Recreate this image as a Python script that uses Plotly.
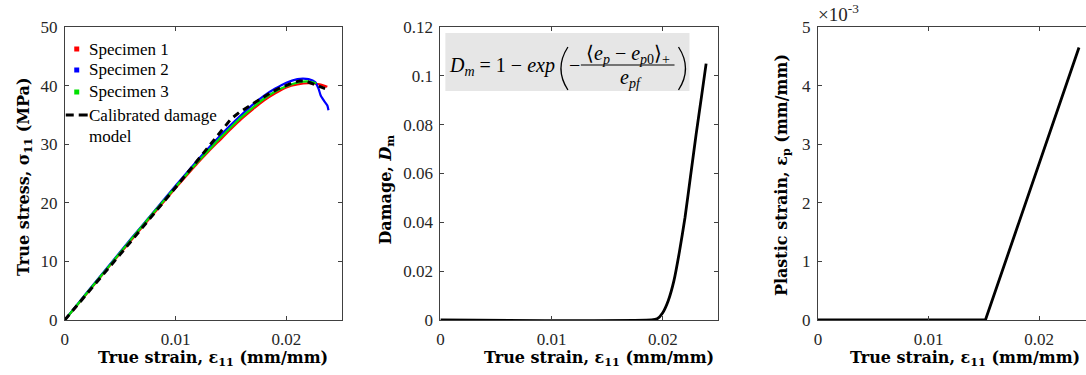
import plotly.graph_objects as go

# ---------------- data ----------------
strain_s1 = [0, 0.002, 0.004, 0.006, 0.008, 0.010, 0.012, 0.013, 0.014, 0.015, 0.016, 0.017, 0.018, 0.019, 0.020, 0.021, 0.022, 0.023, 0.0237]
stress_s1 = [0, 4.5, 9.1, 13.6, 18.1, 22.5, 26.8, 28.8, 30.7, 32.6, 34.4, 36.0, 37.5, 38.7, 39.7, 40.2, 40.4, 40.2, 39.8]

strain_s2 = [0, 0.002, 0.004, 0.006, 0.008, 0.010, 0.012, 0.013, 0.014, 0.015, 0.016, 0.017, 0.018, 0.019, 0.020, 0.021, 0.0215, 0.022, 0.0226, 0.0229, 0.0231, 0.0234, 0.0237, 0.0238]
stress_s2 = [0, 4.7, 9.3, 13.9, 18.4, 22.9, 27.3, 29.4, 31.4, 33.3, 35.1, 36.8, 38.3, 39.5, 40.5, 41.1, 41.2, 41.1, 40.6, 39.5, 38.3, 37.4, 36.6, 35.8]

strain_s3 = [0, 0.002, 0.004, 0.006, 0.008, 0.010, 0.012, 0.013, 0.014, 0.015, 0.016, 0.017, 0.018, 0.019, 0.020, 0.021, 0.022, 0.0227]
stress_s3 = [0, 4.6, 9.2, 13.8, 18.3, 22.7, 27.0, 29.0, 31.0, 32.9, 34.7, 36.3, 37.8, 39.0, 39.9, 40.5, 40.7, 40.4]

strain_model = [0, 0.005, 0.010, 0.015, 0.0158, 0.0167, 0.0176, 0.0185, 0.0193, 0.0200, 0.0206, 0.0212, 0.0218, 0.0224, 0.0230, 0.0235]
stress_model = [0, 11.2, 22.6, 34.3, 35.5, 36.6, 37.7, 38.7, 39.5, 40.1, 40.5, 40.8, 40.75, 40.3, 39.9, 39.5]

strain_dmg = [0, 0.0190, 0.0195, 0.0200, 0.0205, 0.0210, 0.0215, 0.0220, 0.0225, 0.0230, 0.0235, 0.0239]
damage = [0, 0, 0.0005, 0.003, 0.008, 0.016, 0.028, 0.042, 0.059, 0.076, 0.092, 0.105]

strain_pl = [0, 0.01514, 0.0236]
plastic = [0, 0, 0.00465]

series_names = ["Specimen 1", "Specimen 2", "Specimen 3"]
model_name = ["Calibrated damage", "model"]

x_ticks = [0, 0.01, 0.02]
x_ticktext = ["0", "0.01", "0.02"]
y1_ticks = [0, 10, 20, 30, 40, 50]
y2_ticks = [0, 0.02, 0.04, 0.06, 0.08, 0.10, 0.12]
y2_ticktext = ["0", "0.02", "0.04", "0.06", "0.08", "0.1", "0.12"]
y3_ticks = [0, 0.001, 0.002, 0.003, 0.004, 0.005]
y3_ticktext = ["0", "1", "2", "3", "4", "5"]

W, H = 1086, 375
TOP, BOT = 27, 320


def px(x):
    return x / W


def py(y):
    return (BOT - y) / (BOT - TOP)


RED, BLUE, GREEN = "#ff0000", "#0000ff", "#00e000"
COLORS = [RED, BLUE, GREEN]
TICKFONT = dict(family="Liberation Serif", size=17, color="#262626")
TITLEFONT = dict(family="DejaVu Serif", size=16, color="#000000")

fig = go.Figure()

# Panel 1
for xs, ys, c, nm in [(strain_s1, stress_s1, RED, series_names[0]), (strain_s2, stress_s2, BLUE, series_names[1]),
                      (strain_s3, stress_s3, GREEN, series_names[2])]:
    fig.add_trace(go.Scatter(x=xs, y=ys, mode="lines", name=nm,
                             line=dict(color=c, width=2.2, shape="spline", smoothing=0.6),
                             showlegend=False, xaxis="x", yaxis="y"))
fig.add_trace(go.Scatter(x=strain_model, y=stress_model, mode="lines",
                         line=dict(color="black", width=3, dash="7px,5px"),
                         name=" ".join(model_name), showlegend=False, xaxis="x", yaxis="y"))

# Panel 2
fig.add_trace(go.Scatter(x=strain_dmg, y=damage, mode="lines",
                         line=dict(color="black", width=2.8, shape="spline", smoothing=0.5),
                         showlegend=False, xaxis="x2", yaxis="y2"))
# Panel 3
fig.add_trace(go.Scatter(x=strain_pl, y=plastic, mode="lines", line=dict(color="black", width=2.8),
                         showlegend=False, xaxis="x3", yaxis="y3"))

ax_common = dict(showline=True, linecolor="#404040", linewidth=1, ticks="inside", ticklen=4, tickcolor="#404040",
                 tickfont=TICKFONT, showgrid=False, zeroline=False)
xax = dict(ticklabelstandoff=4, **ax_common)
yax = dict(ticklabelstandoff=3, **ax_common)

fig.update_layout(
    width=W, height=H,
    margin=dict(l=0, r=0, t=TOP, b=H - BOT),
    paper_bgcolor="white", plot_bgcolor="white",
    showlegend=False,
    xaxis=dict(domain=[px(61), px(339)], range=[0, 0.025], tickvals=x_ticks, ticktext=x_ticktext,
               mirror="ticks", anchor="y", **xax),
    yaxis=dict(domain=[0, 1], range=[0, 50], tickvals=y1_ticks, mirror="ticks", anchor="x", **yax),
    xaxis2=dict(domain=[px(438), px(717)], range=[0, 0.025], tickvals=x_ticks, ticktext=x_ticktext,
                mirror="ticks", anchor="y2", **xax),
    yaxis2=dict(domain=[0, 1], range=[0, 0.12], tickvals=y2_ticks, ticktext=y2_ticktext, mirror="ticks",
                anchor="x2", **yax),
    xaxis3=dict(domain=[px(817), 1.0], range=[0, (W - 817) / 11100.0], tickvals=x_ticks, ticktext=x_ticktext,
                mirror="ticks", anchor="y3", **xax),
    yaxis3=dict(domain=[0, 1], range=[0, 0.005], tickvals=y3_ticks, ticktext=y3_ticktext, mirror=False,
                anchor="x3", **yax),
)

annotations = []
shapes = []

# ---- legend (drawn manually, MATLAB style) ----
LEGF = dict(family="Liberation Serif", size=17, color="#000000")
leg_y = [49, 70, 92]
for nm, c, yy in zip(series_names, COLORS, leg_y):
    shapes.append(dict(type="rect", xref="paper", yref="paper", x0=px(70.5), x1=px(75.5),
                       y0=py(yy + 2.5), y1=py(yy - 2.5), fillcolor=c, line=dict(width=0)))
    annotations.append(dict(text=nm, x=px(83), y=py(yy), xref="paper", yref="paper", xanchor="left",
                            yanchor="middle", showarrow=False, font=LEGF))
for x0, x1 in [(62, 70), (75, 84)]:
    shapes.append(dict(type="line", xref="paper", yref="paper", x0=px(x0), x1=px(x1), y0=py(115), y1=py(115),
                       line=dict(color="black", width=3)))
annotations.append(dict(text=model_name[0], x=px(83), y=py(115), xref="paper", yref="paper", xanchor="left",
                        yanchor="middle", showarrow=False, font=LEGF))
annotations.append(dict(text=model_name[1], x=px(83), y=py(136), xref="paper", yref="paper", xanchor="left",
                        yanchor="middle", showarrow=False, font=LEGF))

# ---- axis titles ----
xt = "<b>True strain, ε<sub>11</sub> (mm/mm)</b>"
for cx in [210, 597, 965]:
    annotations.append(dict(text=xt, x=px(cx), y=py(358), xref="paper", yref="paper", xanchor="center",
                            yanchor="middle", showarrow=False, font=TITLEFONT))
annotations.append(dict(text="<b>True stress, σ<sub>11</sub> (MPa)</b>", x=px(20), y=py(177), xref="paper", yref="paper",
                        xanchor="center", yanchor="middle", textangle=-90, showarrow=False, font=TITLEFONT))
annotations.append(dict(text="<b>Damage, <i>D</i><sub>m</sub></b>", x=px(383), y=py(190), xref="paper", yref="paper",
                        xanchor="center", yanchor="middle", textangle=-90, showarrow=False, font=TITLEFONT))
annotations.append(dict(text="<b>Plastic strain, ε<sub>p</sub> (mm/mm)</b>", x=px(781), y=py(175), xref="paper",
                        yref="paper", xanchor="center", yanchor="middle", textangle=-90, showarrow=False, font=TITLEFONT))
# x10^-3
annotations.append(dict(text="×10<sup>-3</sup>", x=px(815), y=1.0, xref="paper", yref="paper", xanchor="left",
                        yanchor="bottom", showarrow=False, font=dict(family="Liberation Serif", size=19, color="#262626")))

# ---- equation box ----
EQF = dict(family="Liberation Serif", size=20, color="#000000")
shapes.append(dict(type="rect", xref="paper", yref="paper", x0=px(443), x1=px(688), y0=py(91), y1=py(33),
                   fillcolor="#e6e6e6", line=dict(width=0), layer="below"))
annotations.append(dict(text="<i>D<sub>m</sub></i> = 1 − <i>exp</i>", x=px(555), y=py(66), xref="paper", yref="paper",
                        xanchor="right", yanchor="middle", showarrow=False, font=EQF))
annotations.append(dict(text="−", x=px(573), y=py(65), xref="paper", yref="paper", xanchor="center", yanchor="middle",
                        showarrow=False, font=EQF))
annotations.append(dict(text="⟨<i>e<sub>p</sub></i> − <i>e<sub>p</sub></i><sub>0</sub>⟩<sub>+</sub>", x=px(626), y=py(54),
                        xref="paper", yref="paper", xanchor="center", yanchor="middle", showarrow=False, font=EQF))
annotations.append(dict(text="<i>e<sub>pf</sub></i>", x=px(629), y=py(78), xref="paper", yref="paper", xanchor="center",
                        yanchor="middle", showarrow=False, font=EQF))
shapes.append(dict(type="line", xref="paper", yref="paper", x0=px(579), x1=px(673), y0=py(65), y1=py(65),
                   line=dict(color="black", width=1)))


def paren(xa, xc):
    return "M {a},{t} Q {c},{m} {a},{b}".format(a=px(xa), c=px(xc), t=py(47), m=py(68.5), b=py(90))


shapes.append(dict(type="path", xref="paper", yref="paper", path=paren(566, 552), line=dict(color="black", width=1.3)))
shapes.append(dict(type="path", xref="paper", yref="paper", path=paren(677, 691), line=dict(color="black", width=1.3)))

fig.update_layout(annotations=annotations, shapes=shapes)

fig.write_html("out.html")
